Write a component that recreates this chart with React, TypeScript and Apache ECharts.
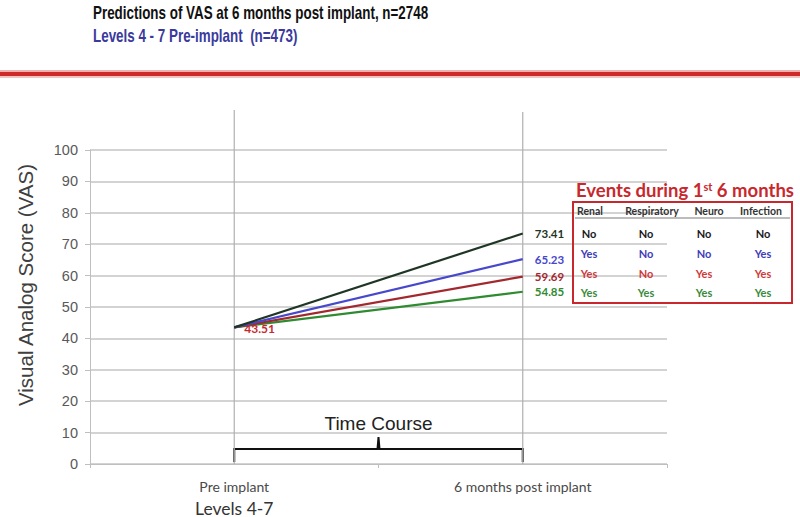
import React, { useEffect, useRef } from "react";
import * as echarts from "echarts";

const categories = ["Pre implant", "6 months post implant"];
const startValue = 43.51;
const seriesNames = ["No events", "Renal + Infection", "Renal + Neuro + Infection", "All events"];
const endValues = [73.41, 65.23, 59.69, 54.85];
const seriesColors = ["#1f3626", "#4848cc", "#a3282e", "#2f8a30"];
const tableTextColors = ["#1a1a1a", "#3d3db8", "#cc3b3b", "#3b8a3b"];
const tableHeaders = ["Renal", "Respiratory", "Neuro", "Infection"];
const tableRows = [
  ["No", "No", "No", "No"],
  ["Yes", "No", "No", "Yes"],
  ["Yes", "No", "Yes", "Yes"],
  ["Yes", "Yes", "Yes", "Yes"],
];
const yTicks = { min: 0, max: 100, interval: 10 };

export default function App() {
  const ref = useRef<HTMLDivElement>(null);
  useEffect(() => {
    if (!ref.current) return;
    const chart = echarts.init(ref.current, null, { renderer: "svg" });
    const series = seriesNames.map((name, i) => ({
      name,
      type: "line",
      showSymbol: true,
      symbol: "circle",
      symbolSize: 0.1,
      data: [
        {
          value: startValue,
          label: i === 2
            ? { show: true, position: "right", distance: 10, formatter: "{c}", color: "#c8282d", fontWeight: "bold", fontSize: 12, fontFamily: "Lato", offset: [0, 1] }
            : { show: false },
        },
        {
          value: endValues[i],
          label: { show: true, position: "right", distance: 12, formatter: "{c}", color: seriesColors[i], fontWeight: "bold", fontSize: 11.5, fontFamily: "Lato" },
        },
      ],
      lineStyle: { color: seriesColors[i], width: 2.2 },
      itemStyle: { color: seriesColors[i] },
      z: 10 - i,
    }));

    chart.setOption({
      animation: false,
      backgroundColor: "#ffffff",
      grid: { left: 90, right: 133, top: 150, bottom: 53, outerBoundsMode: "none", containLabel: false },
      xAxis: {
        type: "category",
        data: categories,
        boundaryGap: true,
        axisLine: { lineStyle: { color: "#bfbfbf", width: 1 } },
        axisTick: { show: true, length: 4, lineStyle: { color: "#bfbfbf" } },
        splitLine: { show: false },
        axisLabel: {
          margin: 11,
          color: "#4a4a4a",
          fontFamily: "Lato",
          fontSize: 14,
          lineHeight: 22,
          formatter: (v: string) => (v === categories[0] ? v + "\n{b|Levels 4-7}" : v),
          rich: { b: { fontFamily: "Lato", fontSize: 17.5, color: "#333", lineHeight: 22 } },
        },
      },
      yAxis: {
        type: "value",
        min: yTicks.min,
        max: yTicks.max,
        interval: yTicks.interval,
        axisLine: { show: true, lineStyle: { color: "#bfbfbf" } },
        axisTick: { show: true, length: 5, lineStyle: { color: "#bfbfbf" } },
        axisLabel: { fontFamily: "Liberation Sans", fontSize: 14.5, color: "#595959", margin: 12 },
        splitLine: { lineStyle: { color: "#c4c4c4", width: 1.5 } },
      },
      series,
    });

    const x0 = chart.convertToPixel({ xAxisIndex: 0 }, categories[0]) as number;
    const x1 = chart.convertToPixel({ xAxisIndex: 0 }, categories[1]) as number;
    const yBase = chart.convertToPixel({ yAxisIndex: 0 }, 0) as number;
    const yTop = chart.convertToPixel({ yAxisIndex: 0 }, 100) as number;
    const xm = (x0 + x1) / 2;
    const yb = yBase - 15;

    const colX = [589, 646, 704, 763];
    const headerX = [590, 652, 709, 761];
    const rowY = [233, 253, 273, 292];

    const graphic: any[] = [
      {
        type: "text",
        x: 93,
        y: 13,
        scaleX: 0.745,
        style: { text: "Predictions of VAS at 6 months post implant, n=2748", fontFamily: "Liberation Sans", fontWeight: "bold", fontSize: 18, fill: "#111", align: "left", verticalAlign: "middle" },
      },
      {
        type: "text",
        x: 93,
        y: 36,
        scaleX: 0.745,
        style: { text: "Levels 4 - 7 Pre-implant  (n=473)", fontFamily: "Liberation Sans", fontWeight: "bold", fontSize: 18, fill: "#3a3a9c", align: "left", verticalAlign: "middle" },
      },
      {
        type: "text",
        x: 25,
        y: 285,
        rotation: Math.PI / 2,
        style: { text: "Visual Analog Score (VAS)", fontFamily: "Liberation Sans", fontSize: 20.5, fill: "#404040", align: "center", verticalAlign: "middle" },
      },
      { type: "rect", shape: { x: 0, y: 72, width: 800, height: 4 }, style: { fill: "#cf2a2a" }, silent: true },
      { type: "rect", shape: { x: 0, y: 70, width: 800, height: 2 }, style: { fill: "#f0b0b0" }, silent: true },
      { type: "rect", shape: { x: 0, y: 76, width: 800, height: 2 }, style: { fill: "#f2c4c4" }, silent: true },
      { type: "line", shape: { x1: x0, y1: yTop - 40, x2: x0, y2: yBase }, style: { stroke: "#b0b0b0", lineWidth: 1.2 }, z: 1 },
      { type: "line", shape: { x1: x1, y1: yTop - 38, x2: x1, y2: yBase }, style: { stroke: "#b0b0b0", lineWidth: 1.2 }, z: 1 },
      {
        type: "polyline",
        shape: { points: [[x0, yBase - 2], [x0, yb], [xm - 1, yb], [xm, yb - 12], [xm + 1, yb], [x1, yb], [x1, yBase - 2]] },
        style: { stroke: "#111", lineWidth: 2, fill: null },
      },
      {
        type: "text",
        x: xm,
        y: yb - 26,
        style: { text: "Time Course", fontFamily: "Liberation Sans", fontSize: 19, fill: "#222", align: "center", verticalAlign: "middle" },
      },
      {
        type: "text",
        x: 685,
        y: 190,
        style: {
          text: "Events during 1{s|st} 6 months",
          fontFamily: "Lato",
          fontSize: 18.5,
          fontWeight: "bold",
          fill: "#c8282d",
          align: "center",
          verticalAlign: "middle",
          rich: { s: { fontSize: 11, fontFamily: "Lato", fontWeight: "bold", fill: "#c8282d", verticalAlign: "top", padding: [0, 0, 8, 0] } },
        },
      },
      { type: "rect", shape: { x: 573, y: 202, width: 219, height: 101 }, style: { stroke: "#c8282d", lineWidth: 2, fill: null } },
      { type: "line", shape: { x1: 575, y1: 218, x2: 790, y2: 218 }, style: { stroke: "#555", lineWidth: 0.8 } },
    ];
    tableHeaders.forEach((h, i) => {
      graphic.push({
        type: "text",
        x: headerX[i],
        y: 211,
        style: { text: h, fontFamily: "Lato", fontSize: 10.5, fontWeight: "bold", fill: "#333", align: "center", verticalAlign: "middle" },
      });
    });
    tableRows.forEach((row, r) => {
      row.forEach((cell, c) => {
        graphic.push({
          type: "text",
          x: colX[c],
          y: rowY[r],
          style: { text: cell, fontFamily: "Lato", fontSize: 11, fontWeight: "bold", fill: tableTextColors[r], align: "center", verticalAlign: "middle" },
        });
      });
    });
    chart.setOption({ graphic });

    return () => chart.dispose();
  }, []);
  return <div ref={ref} style={{ width: 800, height: 517, position: "absolute", left: 0, top: 0 }} />;
}
